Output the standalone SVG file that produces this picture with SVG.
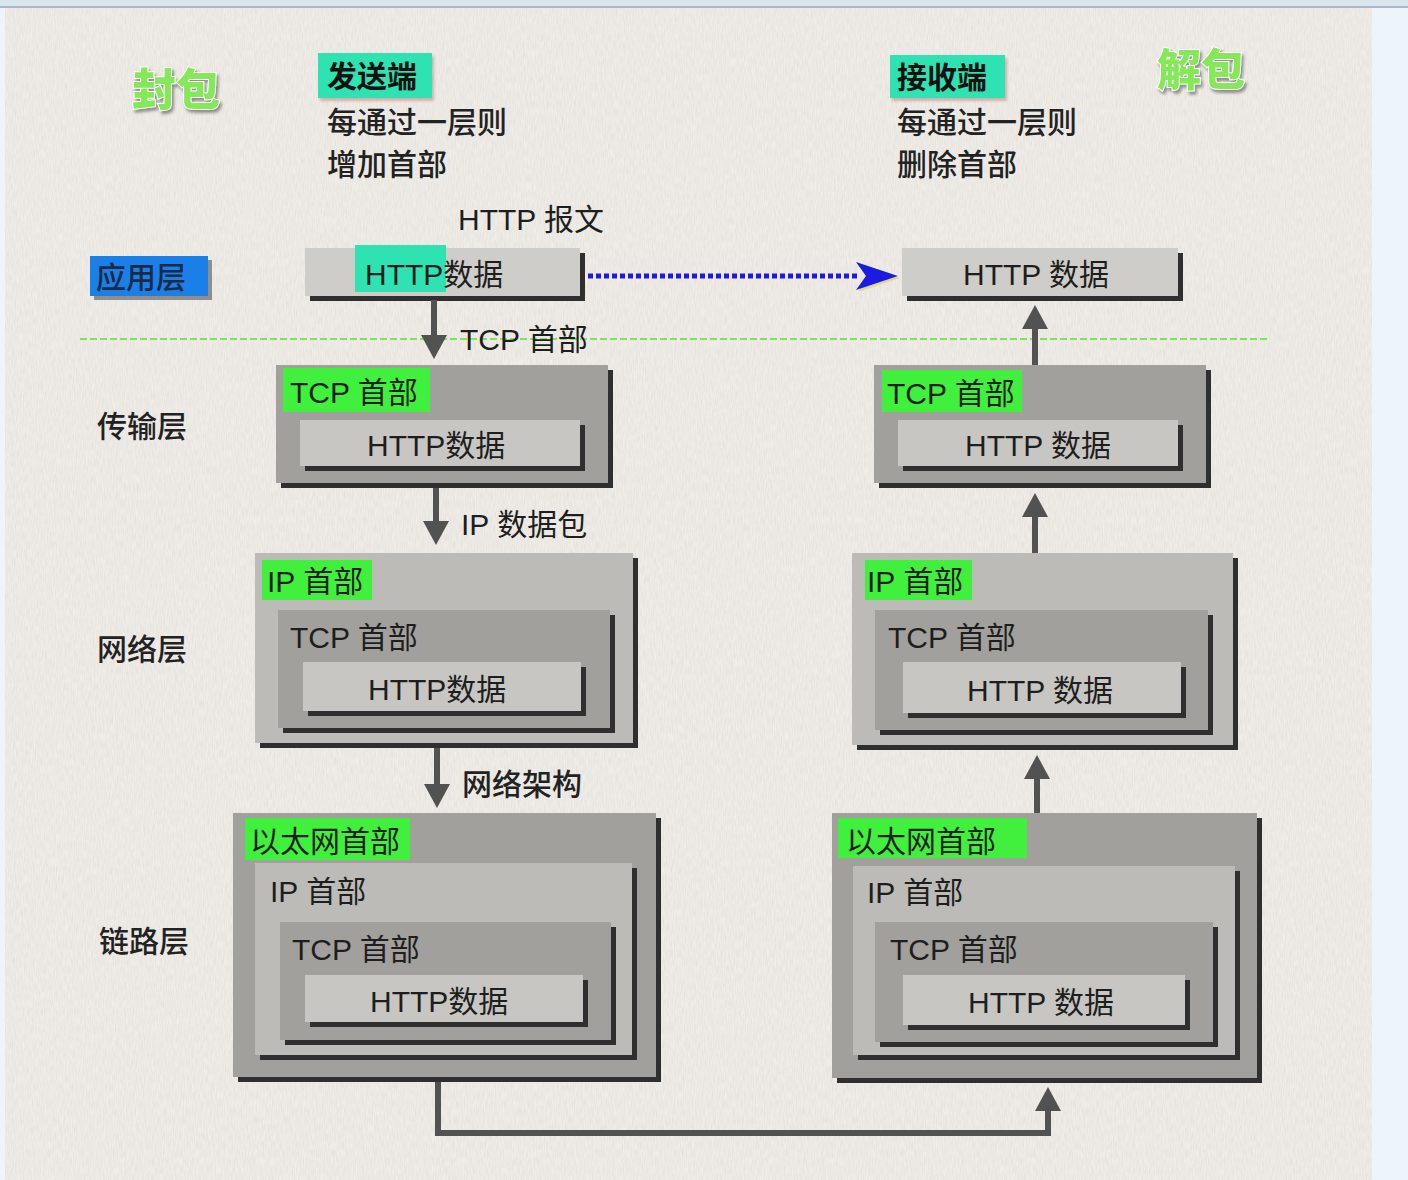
<svg xmlns="http://www.w3.org/2000/svg" width="1408" height="1180" viewBox="0 0 1408 1180">
<style>
.t{font-family:"Liberation Sans","Noto Sans CJK SC",sans-serif;font-size:30px;fill:#1e1e1e}
.cjk{font-family:"Noto Sans CJK SC",sans-serif;font-size:30px;font-weight:500;fill:#222}
.hd{font-family:"Noto Sans CJK SC",sans-serif;font-size:30px;font-weight:bold;fill:#111}
.big{font-family:"Noto Sans CJK SC",sans-serif;font-size:44px;font-weight:900;fill:#84e858;stroke:#fff;stroke-width:2;paint-order:stroke;filter:url(#ts)}
.sh{fill:#2f2f2f}
.app{fill:#cfcdc9}
.dk{fill:#a2a09c}
.lt{fill:#bdbbb7}
.in{fill:#c8c6c2}
.grn{fill:#40f03c}
.teal{fill:#2fe2b2}
.conn{stroke:#525252;stroke-width:6;fill:none}
</style>
<defs>
<filter id="tex" x="0" y="0" width="100%" height="100%">
<feTurbulence type="fractalNoise" baseFrequency="0.9 0.12" numOctaves="2" seed="3"/>
<feColorMatrix type="matrix" values="0 0 0 0 0.45  0 0 0 0 0.43  0 0 0 0 0.4  0 0 0 -1.6 1.15"/>
</filter>
<filter id="ts" x="-20%" y="-20%" width="150%" height="150%">
<feDropShadow dx="2" dy="3" stdDeviation="1.5" flood-color="#777" flood-opacity="0.8"/>
</filter>
<filter id="bs" x="-10%" y="-10%" width="130%" height="140%">
<feDropShadow dx="2" dy="3" stdDeviation="1.5" flood-color="#c07070" flood-opacity="0.5"/>
</filter>
<marker id="ah" viewBox="0 0 24 26" refX="1" refY="13" markerWidth="24" markerHeight="26" markerUnits="userSpaceOnUse" orient="auto">
<path d="M0,0 L24,13 L0,26 Z" fill="#525252"/>
</marker>
<marker id="bh" viewBox="0 0 44 30" refX="2" refY="15" markerWidth="44" markerHeight="30" markerUnits="userSpaceOnUse" orient="auto">
<path d="M2,3 L44,17 L2,31 L12,17 Z" fill="#d8d070" opacity="0.7"/>
<path d="M0,1 L42,15 L0,29 L10,15 Z" fill="#1c1ce0"/>
</marker>
</defs>

<!-- page -->
<rect x="0" y="0" width="1408" height="1180" fill="#eef5fa"/>
<rect x="0" y="0" width="1408" height="6" fill="#dae5f0"/>
<rect x="0" y="6" width="1408" height="2" fill="#a9b9ca"/>
<rect x="5" y="8" width="1367" height="1172" fill="#f0ede8"/>
<rect x="5" y="8" width="1367" height="1172" filter="url(#tex)" opacity="0.18"/>

<!-- titles -->
<g id="title-left">
<text class="big" x="132" y="106">封包</text>
</g>
<g id="title-right">
<text class="big" x="1157" y="86">解包</text>
</g>
<g id="sender">
<rect class="teal" x="318" y="53" width="114" height="45" filter="url(#bs)"/>
<text class="hd" x="327" y="87">发送端</text>
<text class="cjk" x="327" y="133">每通过一层则</text>
<text class="cjk" x="327" y="175">增加首部</text>
</g>
<g id="receiver">
<rect class="teal" x="890" y="55" width="115" height="43" filter="url(#bs)"/>
<text class="hd" x="897" y="88">接收端</text>
<text class="cjk" x="897" y="133">每通过一层则</text>
<text class="cjk" x="897" y="175">删除首部</text>
</g>

<!-- layer labels -->
<g id="label-app">
<rect x="94" y="260" width="118" height="40" fill="#333" opacity="0.5"/>
<rect x="90" y="256" width="118" height="40" fill="#1a7fe6"/>
<text class="cjk" x="96" y="288" style="fill:#1a2a48">应用层</text>
</g>
<g id="label-transport"><text class="cjk" x="97" y="437">传输层</text></g>
<g id="label-network"><text class="cjk" x="97" y="660">网络层</text></g>
<g id="label-link"><text class="cjk" x="99" y="952">链路层</text></g>
<g id="label-http-msg"><text class="t" x="458" y="230">HTTP 报文</text></g>

<!-- separator -->
<line x1="80" y1="339" x2="1268" y2="339" stroke="#7fe35a" stroke-width="2" stroke-dasharray="7 3"/>

<!-- application layer -->
<g id="app-send">
<rect class="sh" x="310" y="253" width="275" height="48"/>
<rect class="app" x="305" y="248" width="275" height="48"/>
<rect class="teal" x="355" y="245" width="91" height="47"/>
<text class="t" x="365" y="285">HTTP数据</text>
</g>
<g id="app-recv">
<rect class="sh" x="907" y="253" width="276" height="48"/>
<rect class="app" x="902" y="248" width="276" height="48"/>
<text class="t" x="963" y="285">HTTP 数据</text>
</g>

<!-- transport layer -->
<g id="tcp-send">
<rect class="sh" x="281" y="370" width="332" height="118"/>
<rect class="dk" x="276" y="365" width="332" height="118"/>
<rect class="grn" x="283" y="368" width="147" height="44"/>
<text class="t" x="290" y="403">TCP 首部</text>
<rect class="sh" x="305" y="425" width="280" height="46"/>
<rect class="in" x="300" y="420" width="280" height="46"/>
<text class="t" x="367" y="456">HTTP数据</text>
</g>
<g id="tcp-recv">
<rect class="sh" x="879" y="370" width="332" height="118"/>
<rect class="dk" x="874" y="365" width="332" height="118"/>
<rect class="grn" x="882" y="370" width="140" height="42"/>
<text class="t" x="887" y="404">TCP 首部</text>
<rect class="sh" x="903" y="425" width="280" height="46"/>
<rect class="in" x="898" y="420" width="280" height="46"/>
<text class="t" x="965" y="456">HTTP 数据</text>
</g>

<!-- network layer -->
<g id="ip-send">
<rect class="sh" x="260" y="558" width="378" height="190"/>
<rect class="lt" x="255" y="553" width="378" height="190"/>
<rect class="grn" x="262" y="560" width="110" height="40"/>
<text class="t" x="267" y="592">IP 首部</text>
<rect class="sh" x="283" y="615" width="332" height="118"/>
<rect class="dk" x="278" y="610" width="332" height="118"/>
<text class="t" x="290" y="648">TCP 首部</text>
<rect class="sh" x="308" y="667" width="278" height="49"/>
<rect class="in" x="303" y="662" width="278" height="49"/>
<text class="t" x="368" y="700">HTTP数据</text>
</g>
<g id="ip-recv">
<rect class="sh" x="857" y="558" width="381" height="192"/>
<rect class="lt" x="852" y="553" width="381" height="192"/>
<rect class="grn" x="865" y="560" width="107" height="40"/>
<text class="t" x="867" y="592">IP 首部</text>
<rect class="sh" x="880" y="615" width="333" height="120"/>
<rect class="dk" x="875" y="610" width="333" height="120"/>
<text class="t" x="888" y="648">TCP 首部</text>
<rect class="sh" x="908" y="667" width="278" height="51"/>
<rect class="in" x="903" y="662" width="278" height="51"/>
<text class="t" x="967" y="701">HTTP 数据</text>
</g>

<!-- link layer -->
<g id="eth-send">
<rect class="sh" x="238" y="818" width="423" height="264"/>
<rect class="dk" x="233" y="813" width="423" height="264"/>
<rect class="grn" x="245" y="818" width="165" height="42"/>
<text class="t" x="250" y="852">以太网首部</text>
<rect class="sh" x="260" y="868" width="377" height="192"/>
<rect class="lt" x="255" y="863" width="377" height="192"/>
<text class="t" x="270" y="902">IP 首部</text>
<rect class="sh" x="285" y="927" width="331" height="118"/>
<rect class="dk" x="280" y="922" width="331" height="118"/>
<text class="t" x="292" y="960">TCP 首部</text>
<rect class="sh" x="310" y="980" width="278" height="47"/>
<rect class="in" x="305" y="975" width="278" height="47"/>
<text class="t" x="370" y="1012">HTTP数据</text>
</g>
<g id="eth-recv">
<rect class="sh" x="837" y="818" width="425" height="265"/>
<rect class="dk" x="832" y="813" width="425" height="265"/>
<rect class="grn" x="838" y="818" width="189" height="40"/>
<text class="t" x="846" y="852">以太网首部</text>
<rect class="sh" x="858" y="871" width="382" height="189"/>
<rect class="lt" x="853" y="866" width="382" height="189"/>
<text class="t" x="867" y="903">IP 首部</text>
<rect class="sh" x="880" y="927" width="338" height="120"/>
<rect class="dk" x="875" y="922" width="338" height="120"/>
<text class="t" x="890" y="960">TCP 首部</text>
<rect class="sh" x="908" y="980" width="282" height="50"/>
<rect class="in" x="903" y="975" width="282" height="50"/>
<text class="t" x="968" y="1013">HTTP 数据</text>
</g>

<!-- connectors -->
<g id="connectors">
<line x1="588" y1="276" x2="858" y2="276" stroke="#1c1ce0" stroke-width="5" stroke-dasharray="5 3" marker-end="url(#bh)"/>
<line class="conn" x1="434" y1="300" x2="434" y2="336" marker-end="url(#ah)"/>
<line class="conn" x1="436" y1="488" x2="436" y2="522" marker-end="url(#ah)"/>
<line class="conn" x1="437" y1="748" x2="437" y2="785" marker-end="url(#ah)"/>
<line class="conn" x1="1035" y1="365" x2="1035" y2="328" marker-end="url(#ah)"/>
<line class="conn" x1="1035" y1="553" x2="1035" y2="516" marker-end="url(#ah)"/>
<line class="conn" x1="1037" y1="813" x2="1037" y2="778" marker-end="url(#ah)"/>
<path class="conn" d="M438,1082 V1133 H1048 V1110" marker-end="url(#ah)"/>
<text class="t" x="460" y="350">TCP 首部</text>
<text class="t" x="461" y="535">IP 数据包</text>
<text class="cjk" x="462" y="795">网络架构</text>
</g>
</svg>
